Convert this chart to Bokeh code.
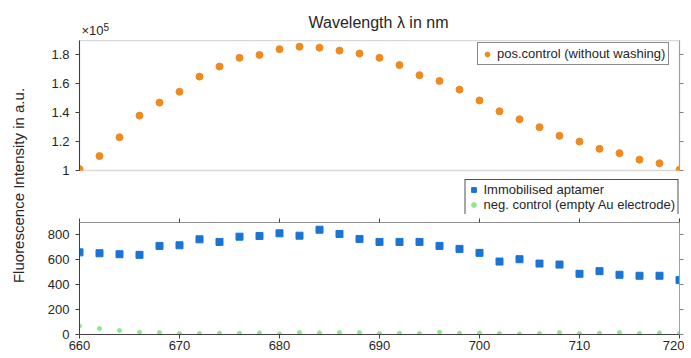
from bokeh.plotting import figure
from bokeh.models import (ColumnDataSource, Range1d, LinearAxis, FixedTicker,
                          CustomJSTickFormatter, Legend, LegendItem, Label)
from bokeh.layouts import row, column
from bokeh.embed import file_html
from bokeh.resources import INLINE

# ---------------- data ----------------
wavelength = list(range(660, 722, 2))
pos_control = [101000, 110000, 123000, 138000, 147000, 154500, 165000, 172000,
               178000, 180000, 184000, 185700, 185000, 183000, 181000, 178000,
               173000, 166000, 162000, 156000, 148500, 141000, 135500, 130000,
               124000, 120000, 115000, 112000, 107500, 105000, 100500]
aptamer = [660, 653, 645, 640, 712, 717, 765, 744, 786, 792, 813, 794, 842, 808,
           768, 744, 744, 744, 712, 688, 656, 586, 605, 570, 562, 488, 509, 480,
           472, 472, 437]
neg_control = [69, 48, 32, 18, 16, 8, 8, 11, 11, 13, 5, 16, 13, 16, 16, 8, 11, 8,
               19, 11, 13, 8, 5, 8, 16, 8, 11, 16, 8, 13, 8]
x_ticks = [660, 670, 680, 690, 700, 710, 720]
top_ticks = [100000, 120000, 140000, 160000, 180000]
bottom_ticks = [0, 200, 400, 600, 800]

FONT = "Liberation Sans"
TXT = "#262626"
AX = "#404040"
LIGHT = "#d9d9d9"
ORANGE = "#EE8A1F"
BLUE = "#1A74D4"
GREEN = "#8FE68F"

LAB_W = 36
BORDER_L = 43
BORDER_R = 5
FRAME_W = 600

src = ColumnDataSource(dict(wl=wavelength, pos=pos_control, apt=aptamer, neg=neg_control))

empty_fmt = CustomJSTickFormatter(code="return ''")


def style_axis(ax, labels=True):
    ax.major_tick_in = 0
    ax.major_tick_out = 4
    ax.minor_tick_line_color = None
    ax.axis_line_color = AX
    ax.major_tick_line_color = AX
    ax.major_label_text_font = FONT
    ax.major_label_text_font_size = "13px"
    ax.major_label_text_color = TXT
    if labels:
        ax.major_label_standoff = 6
    else:
        ax.formatter = empty_fmt
        ax.major_label_standoff = 0


def blank(width, height):
    f = figure(width=width, height=height, x_range=Range1d(0, 1), y_range=Range1d(0, 1),
               output_backend="svg", toolbar_location=None,
               min_border_left=0, min_border_right=0, min_border_top=0, min_border_bottom=0)
    f.axis.visible = False
    f.grid.visible = False
    f.outline_line_color = None
    return f


# ---------------- header (title and exponent) ----------------
header = blank(BORDER_L + FRAME_W + BORDER_R, 40)
header.add_layout(Label(x=FRAME_W / 2 - 1, y=18, x_units="screen", y_units="screen",
                        text="Wavelength λ in nm", text_font=FONT, text_font_size="16px",
                        text_color=TXT, text_align="center", text_baseline="middle"))
header.add_layout(Label(x=2, y=3, x_units="screen", y_units="screen",
                        text="×10", text_font=FONT, text_font_size="13px",
                        text_color=TXT, text_align="left", text_baseline="bottom"))
header.add_layout(Label(x=24, y=10, x_units="screen", y_units="screen",
                        text="5", text_font=FONT, text_font_size="10px",
                        text_color=TXT, text_align="left", text_baseline="bottom"))

# ---------------- top panel ----------------
top = figure(frame_width=FRAME_W, frame_height=130, x_range=Range1d(660, 720),
             y_range=Range1d(100000, 190000), output_backend="svg",
             toolbar_location=None, min_border_left=BORDER_L, min_border_right=BORDER_R,
             min_border_top=0, min_border_bottom=8)
top.grid.visible = False
top.xaxis.visible = False
top.outline_line_color = LIGHT
top.outline_line_width = 1.5
top.yaxis.ticker = FixedTicker(ticks=top_ticks)
top.yaxis.formatter = CustomJSTickFormatter(
    code="return (tick/100000).toFixed(1).replace(/\\.0$/, '')")
style_axis(top.yaxis[0])
r_axis_t = LinearAxis(ticker=FixedTicker(ticks=top_ticks))
style_axis(r_axis_t, labels=False)
r_axis_t.axis_line_color = "#a0a0a0"
r_axis_t.major_tick_line_color = "#808080"
top.add_layout(r_axis_t, "right")

r_pos = top.scatter(x="wl", y="pos", source=src, marker="circle", size=7,
                    fill_color=ORANGE, line_color=ORANGE)

leg_top = Legend(items=[LegendItem(label="pos.control (without washing)", renderers=[r_pos])],
                 location=(398, 105), padding=3, spacing=0, margin=0,
                 label_height=14, glyph_height=14, glyph_width=12, label_standoff=4,
                 label_text_font=FONT, label_text_font_size="13px",
                 label_text_color=TXT, border_line_color="#8a8a8a",
                 border_line_alpha=1, border_line_width=1.3,
                 background_fill_color="white", background_fill_alpha=1)
top.add_layout(leg_top)

# ---------------- legend strip for the bottom panel ----------------
apt_style = dict(marker="square", size=7, fill_color=BLUE, line_color=BLUE)
neg_style = dict(marker="circle", size=4, fill_color=GREEN, line_color=GREEN)

# the strip's ranges exclude the data, so its renderers only feed the legend
legfig = blank(BORDER_L + FRAME_W + BORDER_R, 36)
p_apt = legfig.scatter(x="wl", y="apt", source=src, marker="square", size=5,
                       fill_color=BLUE, line_color=BLUE)
p_neg = legfig.scatter(x="wl", y="neg", source=src, marker="circle", size=3,
                       fill_color=GREEN, line_color=GREEN)
leg_bot = Legend(items=[LegendItem(label="Immobilised aptamer", renderers=[p_apt]),
                        LegendItem(label="neg. control (empty Au electrode)", renderers=[p_neg])],
                 location="top_right", padding=2, spacing=0, margin=1,
                 label_height=15, glyph_height=15, glyph_width=12, label_standoff=4,
                 label_text_font=FONT, label_text_font_size="13px",
                 label_text_color=TXT, border_line_color="#505050",
                 border_line_alpha=1, border_line_width=1.3,
                 background_fill_color="white", background_fill_alpha=1)
legfig.add_layout(leg_bot)

# ---------------- bottom panel ----------------
bot = figure(frame_width=FRAME_W, frame_height=112, x_range=Range1d(660, 720),
             y_range=Range1d(0, 900), output_backend="svg",
             toolbar_location=None, min_border_left=BORDER_L, min_border_right=BORDER_R,
             min_border_top=8, min_border_bottom=2)
bot.grid.visible = False
bot.outline_line_color = None
bot.xaxis.ticker = FixedTicker(ticks=x_ticks)
style_axis(bot.xaxis[0])
bot.xaxis.major_label_standoff = 2
bot.yaxis.ticker = FixedTicker(ticks=bottom_ticks)
style_axis(bot.yaxis[0])

t_axis = LinearAxis(ticker=FixedTicker(ticks=x_ticks))
style_axis(t_axis, labels=False)
t_axis.axis_line_color = "#909090"
t_axis.major_tick_line_color = AX
bot.add_layout(t_axis, "above")

r_axis_b = LinearAxis(ticker=FixedTicker(ticks=bottom_ticks))
style_axis(r_axis_b, labels=False)
r_axis_b.axis_line_color = "#a0a0a0"
r_axis_b.major_tick_line_color = "#808080"
bot.add_layout(r_axis_b, "right")

bot.scatter(x="wl", y="apt", source=src, **apt_style)
bot.scatter(x="wl", y="neg", source=src, **neg_style)

# ---------------- shared y label ----------------
lab = blank(LAB_W, 356)
lab.add_layout(Label(x=18, y=171, x_units="screen", y_units="screen",
                     text="Fluorescence Intensity in a.u.", angle=1.5707963,
                     text_font=FONT, text_font_size="15px", text_color=TXT,
                     text_align="center", text_baseline="middle"))

layout = row(lab, column(header, top, legfig, bot))
open("out.html", "w").write(file_html(layout, INLINE))
